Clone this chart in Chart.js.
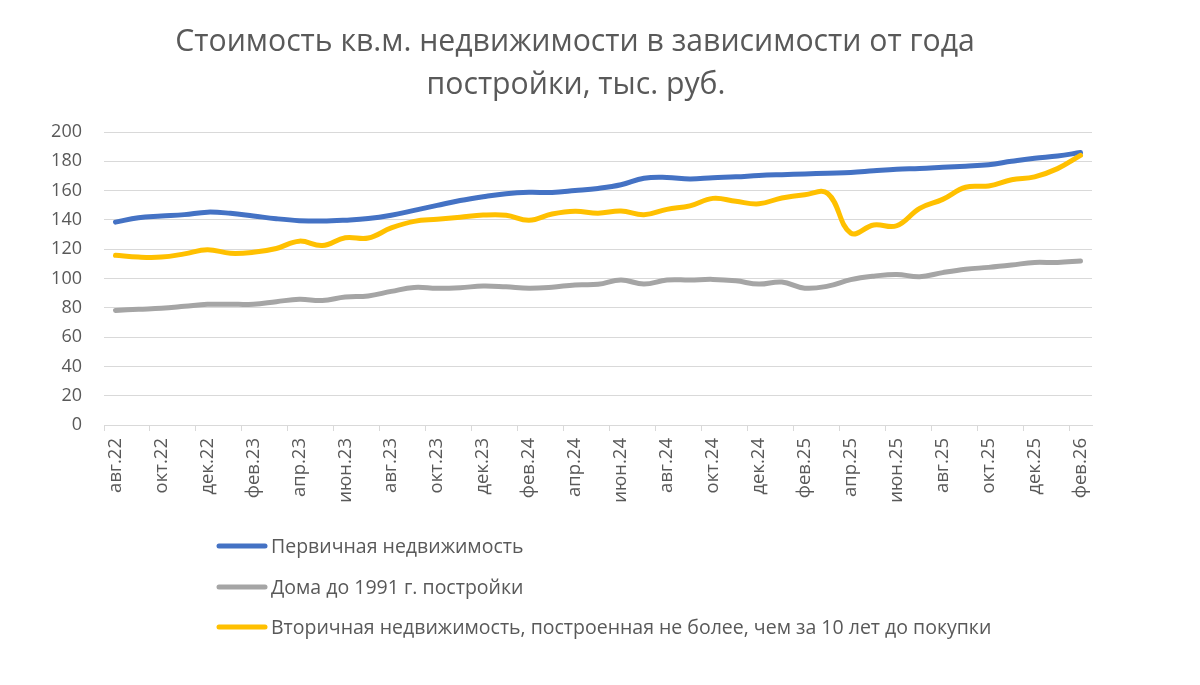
<!DOCTYPE html>
<html lang="ru">
<head>
    <meta charset="UTF-8">
    <title>Стоимость кв.м. недвижимости</title>
    <script src="https://cdn.jsdelivr.net/npm/chart.js"></script>
    <style>
        html, body { margin: 0; padding: 0; background: white; }
        #wrap { width: 1200px; height: 685px; }
    </style>
</head>
<body>
    <div id="wrap"><canvas id="priceChart" width="1200" height="685"></canvas></div>

    <script>
        var titleLines = ["Стоимость кв.м. недвижимости в зависимости от года", "постройки, тыс. руб."];

        var months = ['авг.22','сен.22','окт.22','ноя.22','дек.22',
            'янв.23','фев.23','мар.23','апр.23','май.23','июн.23','июл.23','авг.23','сен.23','окт.23','ноя.23','дек.23',
            'янв.24','фев.24','мар.24','апр.24','май.24','июн.24','июл.24','авг.24','сен.24','окт.24','ноя.24','дек.24',
            'янв.25','фев.25','мар.25','апр.25','май.25','июн.25','июл.25','авг.25','сен.25','окт.25','ноя.25','дек.25',
            'янв.26','фев.26'];

        var primary = [138.5,141.5,142.6,143.6,145.3,144.5,142.7,140.8,139.5,139.2,
            139.8,140.9,143.2,146.5,149.9,153.2,155.8,157.9,158.8,158.7,
            160,161.5,164,168.4,169,168,168.8,169.4,170.3,170.9,
            171.4,171.9,172.3,173.5,174.6,175.1,175.9,176.7,177.7,180,
            182.1,183.6,186];

        var oldHouses = [78.2,79,79.7,81,82.4,82.4,82.5,84.2,85.8,85,
            87.4,88.1,91.2,93.9,93.3,93.7,94.9,94.3,93.4,94.1,
            95.6,96,99,96.2,99,99,99.4,98.4,96.2,97.6,
            93.4,94.8,99.2,101.6,102.8,101.2,104,106.3,107.6,109.2,
            111,110.9,112];

        var secondary = [115.8,114.6,114.6,116.8,119.7,117.2,117.9,120.5,125.5,122.5,
            127.8,127.6,134.5,139,140.4,141.8,143.3,143.2,139.8,144,
            145.9,144.6,146.1,143.5,147.2,149.6,154.7,152.7,151,155,
            157.2,158,131,136.5,136,147.9,154,162.3,163.2,167.4,
            169.4,175,184];

        var seriesNames = ["Первичная недвижимость", "Дома до 1991 г. постройки",
            "Вторичная недвижимость, построенная не более, чем за 10 лет до покупки"];

        var textColor = '#595959';
        var gridColor = '#d9d9d9';

        // title and vertical legend drawn by hand, Excel style
        var decorPlugin = {
            id: 'decor',
            afterDraw: function(chart) {
                var ctx = chart.ctx;
                ctx.save();
                ctx.fillStyle = textColor;
                ctx.textAlign = 'center';
                ctx.textBaseline = 'middle';
                ctx.font = '30px "Open Sans"';
                var w = ctx.measureText(titleLines[0]).width;
                var size = 30 * 800 / w;
                ctx.font = size + 'px "Open Sans"';
                ctx.fillText(titleLines[0], 575, 42);
                ctx.fillText(titleLines[1], 576, 85);

                var ys = [546, 587, 627];
                ctx.textAlign = 'left';
                ctx.font = '19.5px "Open Sans"';
                chart.data.datasets.forEach(function(ds, i) {
                    ctx.strokeStyle = ds.borderColor;
                    ctx.lineWidth = 5;
                    ctx.lineCap = 'round';
                    ctx.beginPath();
                    ctx.moveTo(219, ys[i]);
                    ctx.lineTo(265, ys[i]);
                    ctx.stroke();
                    ctx.fillText(ds.label, 271, ys[i] + 1);
                });
                ctx.restore();
            }
        };

        var ctx = document.getElementById('priceChart').getContext('2d');
        var priceChart = new Chart(ctx, {
            type: 'line',
            data: {
                labels: months,
                datasets: [
                    { label: seriesNames[0], data: primary, borderColor: '#4472C4', order: 2 },
                    { label: seriesNames[1], data: oldHouses, borderColor: '#A5A5A5', order: 1 },
                    { label: seriesNames[2], data: secondary, borderColor: '#FFC000', order: 0 }
                ]
            },
            options: {
                responsive: false,
                animation: false,
                devicePixelRatio: 1,
                layout: { padding: { left: 44, right: 108, top: 132, bottom: 175 } },
                elements: {
                    line: { borderWidth: 5, tension: 0.4, borderCapStyle: 'round', borderJoinStyle: 'round', fill: false },
                    point: { radius: 0, hoverRadius: 0 }
                },
                plugins: {
                    legend: { display: false },
                    title: { display: false },
                    tooltip: { enabled: false }
                },
                scales: {
                    x: {
                        offset: true,
                        afterFit: function(scale) { scale.height = 85; },
                        grid: {
                            offset: true,
                            drawOnChartArea: false,
                            drawTicks: true,
                            tickLength: 6,
                            color: function(c) {
                                return (c.index !== undefined && c.index % 2 === 0) ? gridColor : 'rgba(0,0,0,0)';
                            }
                        },
                        border: { display: true, color: gridColor, width: 1 },
                        ticks: {
                            autoSkip: false,
                            minRotation: 90,
                            maxRotation: 90,
                            padding: 7,
                            color: textColor,
                            font: { family: 'Open Sans', size: 18.5 },
                            callback: function(val, index) { return index % 2 === 0 ? months[index] : ''; }
                        }
                    },
                    y: {
                        min: 0,
                        max: 200,
                        afterFit: function(scale) { scale.width = 60; },
                        grid: { color: gridColor, lineWidth: 1, drawTicks: false },
                        border: { display: false },
                        ticks: {
                            stepSize: 20,
                            padding: 22,
                            color: textColor,
                            font: { family: 'Open Sans', size: 18 }
                        }
                    }
                }
            },
            plugins: [decorPlugin]
        });
    </script>
</body>
</html>
